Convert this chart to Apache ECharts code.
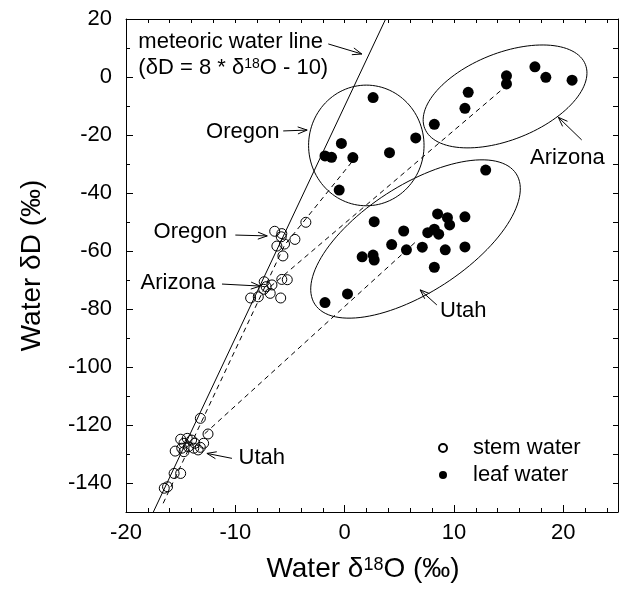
<!DOCTYPE html>
<html><head><meta charset="utf-8">
<script src="https://cdn.jsdelivr.net/npm/echarts@6/dist/echarts.min.js"></script>
<style>html,body{margin:0;padding:0;background:#fff}#c{width:626px;height:589px}</style>
</head><body><div id="c"></div>
<script>
// ---- tick labels ----
const xTicks = [-20, -10, 0, 10, 20];
const yTicks = [-140, -120, -100, -80, -60, -40, -20, 0, 20];

// ---- stem water (open circles) [δ18O, δD] ----
const stemOregon = [[-3.55,-50.1],[-6.4,-53.2],[-5.75,-54.0],[-5.8,-55.1],[-4.55,-56.0],[-6.2,-58.3],[-5.5,-57.6],[-5.65,-61.7]];
const stemArizona = [[-7.36,-70.6],[-6.65,-71.7],[-7.18,-72.3],[-6.81,-74.6],[-7.4,-73.2],[-8.6,-76.2],[-7.9,-75.8],[-5.85,-76.2],[-5.75,-69.8],[-5.25,-69.9]];
const stemUtah = [[-13.2,-117.7],[-12.5,-123.1],[-15.0,-124.9],[-14.4,-124.6],[-14.0,-125.2],[-14.7,-126.3],[-13.7,-126.3],[-12.9,-126.3],[-14.3,-127.5],[-13.2,-127.7],[-13.8,-128.0],[-14.9,-128.0],[-15.5,-129.0],[-13.4,-128.6],[-14.7,-129.2],[-15.6,-136.7],[-15.0,-136.7],[-16.5,-141.8],[-16.2,-141.3]];

// ---- leaf water (filled circles) ----
const leafOregon = [[2.6,-7.1],[-0.3,-22.9],[-1.8,-27.2],[-1.2,-27.7],[0.75,-27.8],[4.1,-26.1],[6.5,-21.0],[-0.5,-39.0]];
const leafArizona = [[8.2,-16.3],[11.0,-10.8],[11.3,-5.3],[14.8,0.4],[14.8,-2.4],[17.4,3.5],[18.4,-0.1],[20.8,-1.1]];
const leafUtah = [[12.9,-32.1],[8.5,-47.2],[9.4,-48.5],[9.6,-51.0],[11.0,-48.2],[2.7,-49.9],[5.4,-53.1],[7.6,-53.7],[8.2,-52.5],[8.6,-54.2],[4.3,-57.8],[5.65,-59.6],[7.1,-58.7],[9.2,-59.6],[11.0,-58.6],[1.6,-62.0],[2.6,-61.4],[2.7,-63.1],[8.2,-65.6],[0.26,-74.8],[-1.8,-77.8]];

// ---- lines ----
const meteoricLine = [[-17.5,-150],[3.75,20]];
const dashedOregon = [[-16.6,-147],[-5.5,-58],[1.3,-26.3]];
const dashedArizona = [[-6.8,-72.3],[14.8,-3]];
const dashedUtah = [[-12.8,-123],[6.6,-56.5]];

// ---- ellipses: [cx, cy, ux, uy, vx, vy] in data units ----
const ellipses = [
  [1.98,-23.6, 5.28,0, 0,-20.8],
  [14.67,-6.7, 7.346,11.03, 1.466,-13.9],
  [6.48,-55.86, 9.21,22.48, 2.656,-15.49]
];

// ---- annotation arrows [x1,y1,x2,y2] (head at x2,y2) ----
const arrows = [
  [-1.5,11.4, 1.57,7.93],
  [-5.62,-18.6, -3.43,-18.3],
  [-10.0,-54.5, -7.08,-54.8],
  [-11.22,-71.4, -7.72,-72.1],
  [-10.31,-131.5, -12.6,-129.8],
  [21.68,-21.7, 19.54,-13.9],
  [8.43,-78.6, 6.9,-73.4]
];
// ---- annotation texts ----
const annoPos = [[-18.87,12.07],[-18.87,3.1],[-5.97,-18.9],[-10.77,-53.3],[-11.84,-70.9],[-9.71,-131.5],[16.96,-28.0],[8.73,-80.7]];
const annoText = ['meteoric water line','(δD = 8 * δ{sup|18}O - 10)','Oregon','Oregon','Arizona','Utah','Arizona','Utah'];
const annoAlign = ['left','left','right','right','right','left','left','left'];

const FONT = 'Liberation Sans, Arial, Helvetica, sans-serif';
const chart = echarts.init(document.getElementById('c'), null, {renderer:'canvas'});

function axisBase(extra){
  const base = {type:'value', splitLine:{show:false}, axisLine:{show:false, onZero:false, lineStyle:{color:'#000',width:1}},
    axisTick:{show:false}, axisLabel:{show:false}};
  return Object.assign(base, extra);
}
const LINE = {show:true, onZero:false, lineStyle:{color:'#000',width:1}};
const NOLINE = {show:false, onZero:false};
const X = {min:-20, max:25}, Y = {min:-150, max:20};
const xAxes = [
  axisBase(Object.assign({}, X, {position:'bottom', interval:10, axisLine:LINE,
    axisTick:{show:true, inside:true, length:7, customValues:xTicks, lineStyle:{color:'#000'}},
    axisLabel:{show:true, customValues:xTicks, fontSize:22, fontFamily:FONT, color:'#000', margin:10},
    name:'Water δ{sup|18}O (‰)', nameLocation:'middle', nameGap:43,
    nameTextStyle:{fontSize:28, fontFamily:FONT, color:'#000', padding:[0,18,0,0],
      rich:{sup:{fontSize:18, fontFamily:FONT, color:'#000', padding:[0,0,8,0]}}}})),
  axisBase(Object.assign({}, X, {position:'bottom', interval:2, axisLine:NOLINE,
    axisTick:{show:true, inside:true, length:4, lineStyle:{color:'#000'}}})),
  axisBase(Object.assign({}, X, {position:'top', interval:2, axisLine:LINE,
    axisTick:{show:true, inside:true, length:4, lineStyle:{color:'#000'}}}))
];
const yAxes = [
  axisBase(Object.assign({}, Y, {position:'left', interval:10, axisLine:LINE,
    axisTick:{show:true, inside:true, length:7, customValues:yTicks, lineStyle:{color:'#000'}},
    axisLabel:{show:true, customValues:yTicks, fontSize:22, fontFamily:FONT, color:'#000', margin:14},
    name:'Water δD (‰)', nameLocation:'middle', nameGap:80,
    nameTextStyle:{fontSize:28, fontFamily:FONT, color:'#000'}})),
  axisBase(Object.assign({}, Y, {position:'left', interval:10, axisLine:NOLINE,
    axisTick:{show:true, inside:true, length:4, lineStyle:{color:'#000'}}})),
  axisBase(Object.assign({}, Y, {position:'right', interval:10, axisLine:LINE,
    axisTick:{show:true, inside:true, length:5, lineStyle:{color:'#000'}}}))
];

const lineSeries = (data, dashed) => ({type:'line', data, symbol:'none', silent:true, z:1,
  lineStyle:{color:'#000', width:1, type: dashed ? [5,4] : 'solid'}});

const option = {
  animation:false,
  grid:{left:126, right:8, top:19, bottom:77},
  xAxis: xAxes,
  yAxis: yAxes,
  legend:{orient:'vertical', left:433, top:432, itemWidth:40, itemHeight:8, itemGap:5, selectedMode:false,
    data:['stem water','leaf water'],
    textStyle:{fontSize:22, lineHeight:22, fontFamily:FONT, color:'#000', padding:[0,0,0,5]}},
  series:[
    lineSeries(meteoricLine,false),
    lineSeries(dashedOregon,true),
    lineSeries(dashedArizona,true),
    lineSeries(dashedUtah,true),
    {type:'scatter', name:'stem water', data: stemOregon.concat(stemArizona, stemUtah), symbol:'circle', symbolSize:10, z:3,
      itemStyle:{color:'rgba(255,255,255,0)', borderColor:'#000', borderWidth:1, opacity:1}},
    {type:'scatter', name:'leaf water', data: leafOregon.concat(leafArizona, leafUtah), symbol:'circle', symbolSize:11, z:3,
      itemStyle:{color:'#000', opacity:1}},
    {type:'custom', data: ellipses, silent:true, z:2, clip:false,
      renderItem:(params, api)=>{
        const v = [0,1,2,3,4,5].map(i=>api.value(i));
        const pts = [];
        for(let k=0;k<=120;k++){ const t = k/120*Math.PI*2;
          pts.push(api.coord([v[0]+Math.cos(t)*v[2]+Math.sin(t)*v[4], v[1]+Math.cos(t)*v[3]+Math.sin(t)*v[5]])); }
        return {type:'polyline', shape:{points:pts}, style:{stroke:'#000', fill:null, lineWidth:1}};
      }},
    {type:'custom', data: arrows, silent:true, z:2, clip:false,
      renderItem:(params, api)=>{
        const p1 = api.coord([api.value(0), api.value(1)]), p2 = api.coord([api.value(2), api.value(3)]);
        const ang = Math.atan2(p2[1]-p1[1], p2[0]-p1[0]), L = 10, a = 0.36;
        const h1 = [p2[0]-L*Math.cos(ang-a), p2[1]-L*Math.sin(ang-a)];
        const h2 = [p2[0]-L*Math.cos(ang+a), p2[1]-L*Math.sin(ang+a)];
        return {type:'group', children:[
          {type:'line', shape:{x1:p1[0],y1:p1[1],x2:p2[0],y2:p2[1]}, style:{stroke:'#000', lineWidth:1}},
          {type:'polyline', shape:{points:[h1,p2,h2]}, style:{stroke:'#000', fill:null, lineWidth:1}}]};
      }},
    {type:'custom', data: annoPos, silent:true, z:4, clip:false,
      renderItem:(params, api)=>{
        const i = params.dataIndex;
        const p = api.coord([api.value(0), api.value(1)]);
        return {type:'text', x:p[0], y:p[1], style:{text:annoText[i], fontSize:22, fontFamily:FONT, fill:'#000',
          align:annoAlign[i], verticalAlign:'middle',
          rich:{sup:{fontSize:14, fontFamily:FONT, fill:'#000', padding:[0,0,7,0]}}}};
      }}
  ]
};
chart.setOption(option);
</script></body></html>
